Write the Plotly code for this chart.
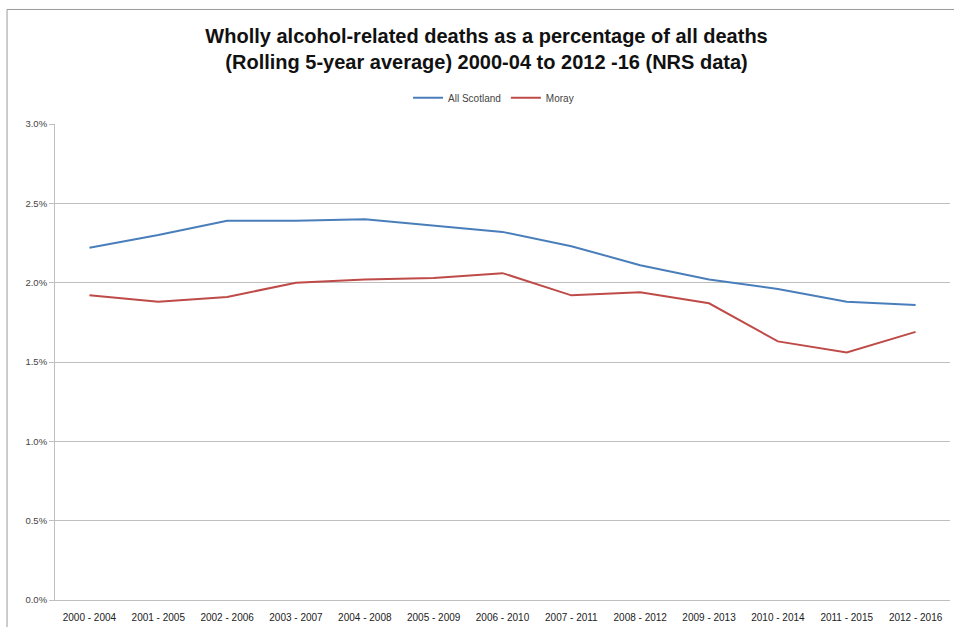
import plotly.graph_objects as go

categories = ["2000 - 2004", "2001 - 2005", "2002 - 2006", "2003 - 2007", "2004 - 2008",
              "2005 - 2009", "2006 - 2010", "2007 - 2011", "2008 - 2012", "2009 - 2013",
              "2010 - 2014", "2011 - 2015", "2012 - 2016"]
all_scotland = [2.22, 2.30, 2.39, 2.39, 2.40, 2.36, 2.32, 2.23, 2.11, 2.02, 1.96, 1.88, 1.86]
moray = [1.92, 1.88, 1.91, 2.00, 2.02, 2.03, 2.06, 1.92, 1.94, 1.87, 1.63, 1.56, 1.69]
y_ticks = [0.0, 0.5, 1.0, 1.5, 2.0, 2.5, 3.0]

fig = go.Figure()
fig.add_trace(go.Scatter(x=categories, y=all_scotland, mode="lines", name="All Scotland",
                         line=dict(color="#4A7EBB", width=2)))
fig.add_trace(go.Scatter(x=categories, y=moray, mode="lines", name="Moray",
                         line=dict(color="#BE4B48", width=2)))

fig.update_layout(
    width=954, height=627,
    margin=dict(l=55, r=4, t=124, b=25),
    paper_bgcolor="white", plot_bgcolor="white",
    font=dict(family="Liberation Sans, Arial", color="#333333"),
    title=dict(
        text="<b>Wholly alcohol-related deaths as a percentage of all deaths<br>(Rolling 5-year average) 2000-04 to 2012 -16 (NRS data)</b>",
        x=0.51, xanchor="center", y=0.932, yanchor="top",
        font=dict(size=20, color="#111111", family="Liberation Sans, Arial"),
    ),
    legend=dict(orientation="h", x=0.49, xanchor="center", y=1.055, yanchor="middle",
                font=dict(size=10, color="#444444"), itemwidth=30),
    showlegend=True,
)
fig.update_xaxes(type="category", showgrid=False, showline=True, linecolor="#BFBFBF",
                 ticks="", tickfont=dict(size=10, color="#222222"), tickangle=0,
                 ticklabelstandoff=8,
                 range=[-0.5, len(categories) - 0.5])
fig.update_yaxes(range=[0, 3.0], tickvals=y_ticks, ticktext=[f"{v:.1f}%" for v in y_ticks],
                 showgrid=True, gridcolor="#BFBFBF", gridwidth=1, showline=True,
                 linecolor="#BFBFBF", zeroline=False, tickfont=dict(size=9.5, color="#444444"),
                 ticks="outside", ticklen=5, tickcolor="#BFBFBF")

fig.add_shape(type="line", xref="paper", yref="paper", x0=-0.0536, x1=1.01, y0=1.2406, y1=1.2406,
              line=dict(color="#999999", width=1))
fig.add_shape(type="line", xref="paper", yref="paper", x0=-0.0536, x1=-0.0536, y0=-0.06, y1=1.2406,
              line=dict(color="#999999", width=1))

fig.write_html("out.html")
